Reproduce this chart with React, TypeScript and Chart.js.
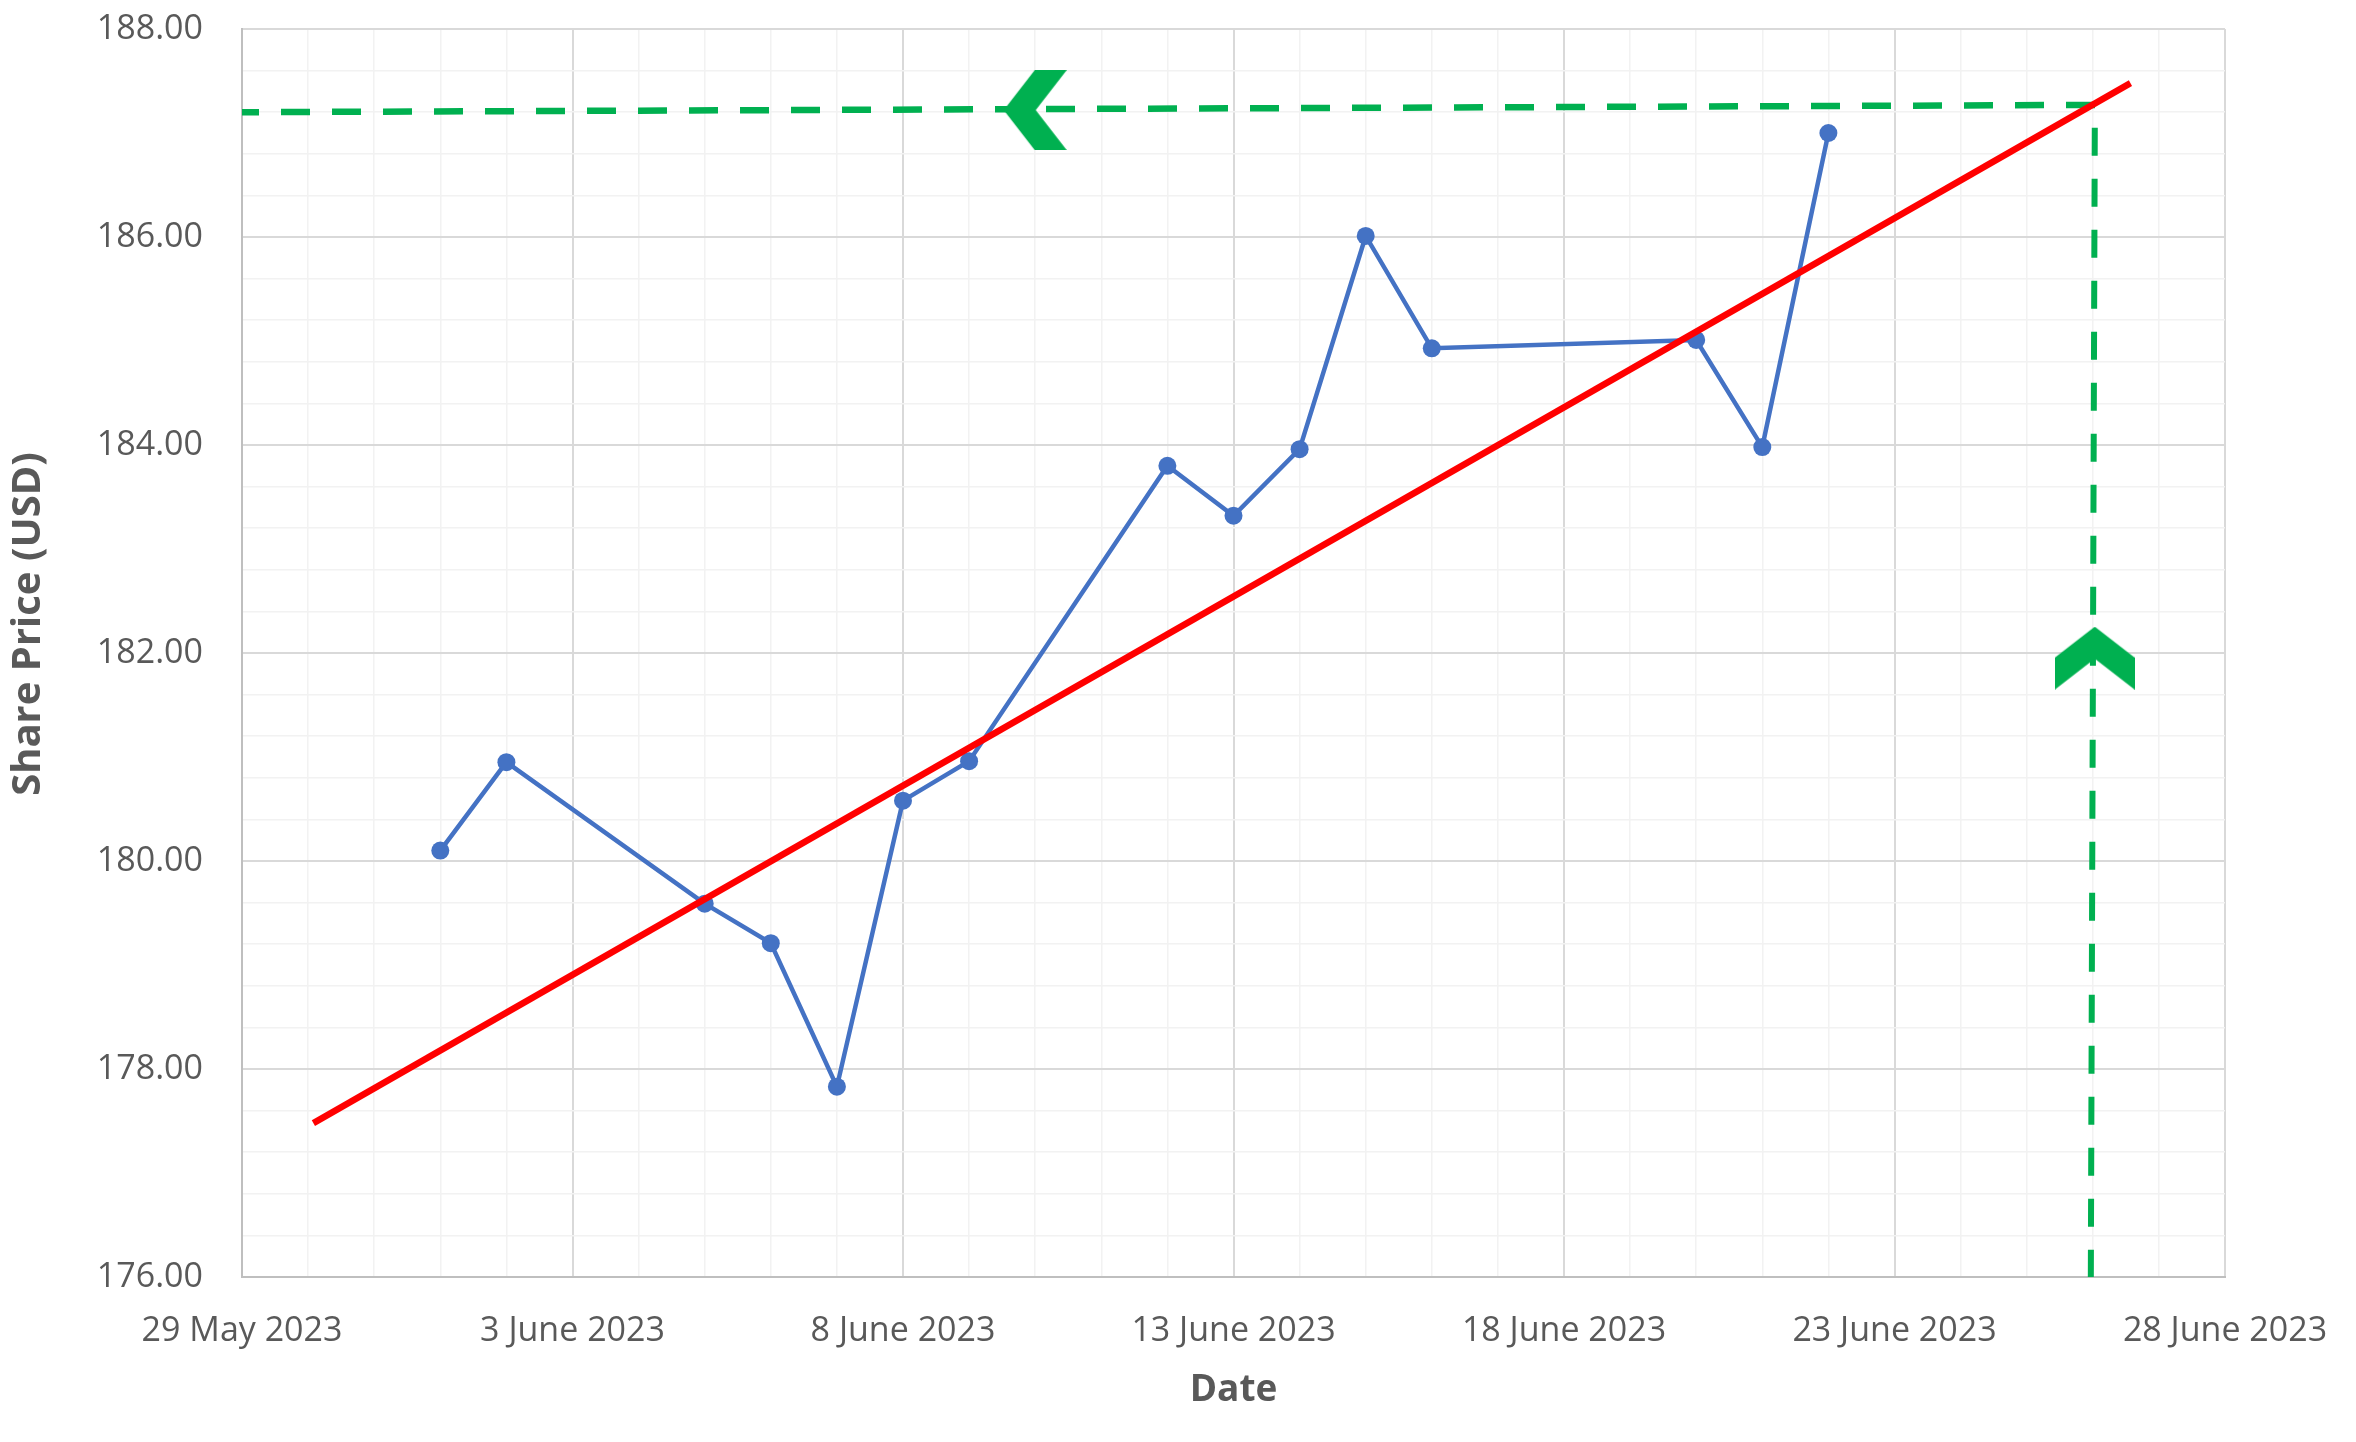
import React, { useEffect, useRef } from "react";
import { Chart, registerables } from "chart.js";

Chart.register(...registerables);

// ---- data ----
const axisStart = "2023-05-29";
const dates = [
  "2023-06-01", "2023-06-02", "2023-06-05", "2023-06-06", "2023-06-07",
  "2023-06-08", "2023-06-09", "2023-06-12", "2023-06-13", "2023-06-14",
  "2023-06-15", "2023-06-16", "2023-06-20", "2023-06-21", "2023-06-22",
];
const prices = [
  180.1, 180.95, 179.59, 179.21, 177.83,
  180.58, 180.96, 183.8, 183.32, 183.96,
  186.01, 184.93, 185.01, 183.98, 187.0,
];
// red trend line (days after axis start, price)
const trendDays = [1.08, 28.57];
const trendPrices = [177.48, 187.48];
// green dashed guides
const hGuideDays = [0, 28.05];
const hGuidePrices = [187.2, 187.27];
const vGuideDays = [28.03, 27.97];
const vGuidePrices = [187.05, 176.0];
// green chevrons
const arrowDays = [12, 28.03];
const arrowPrices = [187.22, 181.95];
const arrowRotations = [0, 90];
// axes
const xMin = 0;
const xMax = 30;
const xTickDays = [0, 5, 10, 15, 20, 25, 30];
const xTickLabels = [
  "29 May 2023", "3 June 2023", "8 June 2023", "13 June 2023",
  "18 June 2023", "23 June 2023", "28 June 2023",
];
const yMin = 176;
const yMax = 188;
const yMajorStep = 2;
const yMinorStep = 0.4;
const xTitle = "Date";
const yTitle = "Share Price (USD)";

const DAY = 86400000;
const dayOf = (d: string) => (Date.parse(d) - Date.parse(axisStart)) / DAY;

const TEXT = "#595959";
const MAJOR = "#D9D9D9";
const MINOR = "#F2F2F2";
const GREEN = "#00B050";

function makeChevron(): HTMLCanvasElement {
  const c = document.createElement("canvas");
  c.width = 63;
  c.height = 80;
  const g = c.getContext("2d")!;
  g.fillStyle = GREEN;
  g.beginPath();
  g.moveTo(0, 40);
  g.lineTo(31, 0);
  g.lineTo(63, 0);
  g.lineTo(32, 40);
  g.lineTo(63, 80);
  g.lineTo(31, 80);
  g.closePath();
  g.fill();
  return c;
}

const isYMajor = (v: number) => Math.abs(v / yMajorStep - Math.round(v / yMajorStep)) < 1e-6;

export default function App() {
  const ref = useRef<HTMLCanvasElement | null>(null);

  useEffect(() => {
    if (!ref.current) return;
    const chevron = makeChevron();

    const yTitlePlugin = {
      id: "yTitlePlugin",
      afterDraw(chart: any) {
        const { ctx, chartArea } = chart;
        ctx.save();
        ctx.translate(chartArea.left - 213, (chartArea.top + chartArea.bottom) / 2 - 29);
        ctx.rotate(-Math.PI / 2);
        ctx.font = "bold 40px 'Open Sans'";
        ctx.fillStyle = TEXT;
        ctx.textAlign = "center";
        ctx.textBaseline = "middle";
        ctx.fillText(yTitle, 0, 0);
        ctx.restore();
      },
    };

    const chart = new Chart(ref.current, {
      type: "scatter",
      data: {
        datasets: [
          {
            label: "Trend",
            data: trendDays.map((x, i) => ({ x, y: trendPrices[i] })),
            showLine: true,
            borderColor: "#FF0000",
            borderWidth: 6.5,
            pointRadius: 0,
            order: 0,
          },
          {
            label: "Share Price",
            data: dates.map((d, i) => ({ x: dayOf(d), y: prices[i] })),
            showLine: true,
            borderColor: "#4472C4",
            backgroundColor: "#4472C4",
            borderWidth: 4.5,
            pointRadius: 9,
            pointBorderWidth: 0,
            pointBackgroundColor: "#4472C4",
            order: 1,
          },
          {
            label: "Arrows",
            data: arrowDays.map((x, i) => ({ x, y: arrowPrices[i] })),
            showLine: false,
            pointStyle: chevron as any,
            rotation: arrowRotations as any,
            order: 2,
          },
          {
            label: "HGuide",
            data: hGuideDays.map((x, i) => ({ x, y: hGuidePrices[i] })),
            showLine: true,
            borderColor: GREEN,
            borderWidth: 6.5,
            borderDash: [29, 22],
            borderDashOffset: 12,
            pointRadius: 0,
            order: 3,
          },
          {
            label: "VGuide",
            data: vGuideDays.map((x, i) => ({ x, y: vGuidePrices[i] })),
            showLine: true,
            borderColor: GREEN,
            borderWidth: 6,
            borderDash: [28, 23],
            pointRadius: 0,
            clip: false as any,
            order: 3,
          },
        ],
      },
      options: {
        animation: false,
        responsive: false,
        layout: { padding: { top: 29, right: 131, left: 0, bottom: 0 } },
        plugins: {
          legend: { display: false },
          tooltip: { enabled: false },
        },
        scales: {
          x: {
            type: "linear",
            min: xMin,
            max: xMax,
            afterBuildTicks: (scale: any) => {
              const t = [];
              for (let d = xMin; d <= xMax; d += 1) t.push({ value: d });
              scale.ticks = t;
            },
            afterFit: (scale: any) => {
              scale.height = 165;
              scale.paddingLeft = 0;
              scale.paddingRight = 0;
            },
            ticks: {
              autoSkip: false,
              maxRotation: 0,
              minRotation: 0,
              padding: 34,
              color: TEXT,
              font: { family: "'Open Sans'", size: 34 },
              callback: (v: any) => {
                const i = xTickDays.indexOf(Number(v));
                return i >= 0 ? xTickLabels[i] : "";
              },
            },
            grid: {
              drawTicks: false,
              color: (c: any) => (c.tick && xTickDays.includes(c.tick.value) ? MAJOR : MINOR),
              lineWidth: (c: any) => (c.tick && xTickDays.includes(c.tick.value) ? 2 : 1.5),
            },
            border: { color: "#BFBFBF", width: 2 },
            title: {
              display: true,
              text: xTitle,
              color: TEXT,
              font: { family: "'Open Sans'", size: 37, weight: "bold" },
              padding: { top: 0, bottom: 29 },
            },
          },
          y: {
            type: "linear",
            min: yMin,
            max: yMax,
            afterBuildTicks: (scale: any) => {
              const t = [];
              const n = Math.round((yMax - yMin) / yMinorStep);
              for (let i = 0; i <= n; i++) t.push({ value: +(yMin + i * yMinorStep).toFixed(2) });
              scale.ticks = t;
            },
            afterFit: (scale: any) => {
              scale.width = 242;
              scale.paddingTop = 20;
              scale.paddingBottom = 20;
            },
            ticks: {
              autoSkip: false,
              padding: 39,
              color: TEXT,
              font: { family: "'Open Sans'", size: 34 },
              callback: (v: any) => (isYMajor(Number(v)) ? Number(v).toFixed(2) : ""),
            },
            grid: {
              drawTicks: false,
              color: (c: any) => (c.tick && isYMajor(c.tick.value) ? MAJOR : MINOR),
              lineWidth: (c: any) => (c.tick && isYMajor(c.tick.value) ? 2 : 1.5),
            },
            border: { color: "#BFBFBF", width: 2 },
          },
        },
      },
      plugins: [yTitlePlugin],
    } as any);

    return () => chart.destroy();
  }, []);

  return (
    <div style={{ position: "fixed", left: 0, top: 0, width: 2356, height: 1442, background: "#fff" }}>
      <canvas ref={ref} width={2356} height={1442} style={{ display: "block", width: 2356, height: 1442 }} />
    </div>
  );
}
